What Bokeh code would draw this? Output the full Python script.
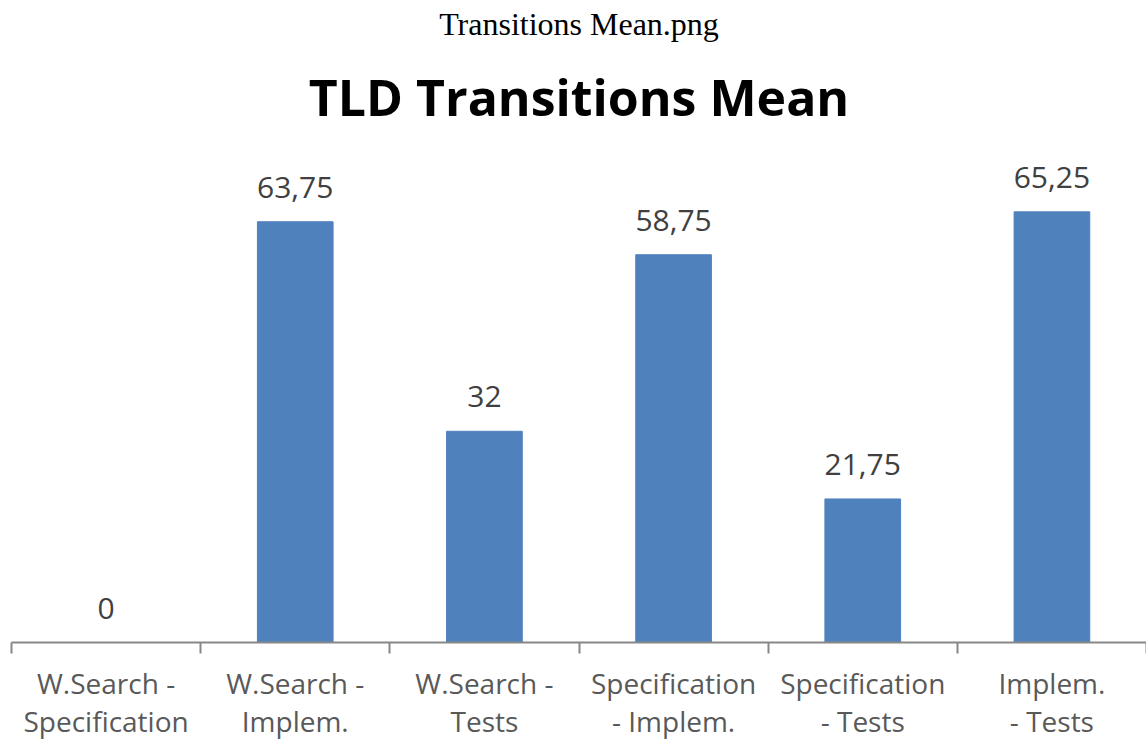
from bokeh.plotting import figure
from bokeh.models import (Range1d, LinearAxis, FixedTicker, Title, ColumnDataSource, LabelSet)
from bokeh.core.properties import value
from bokeh.embed import file_html
from bokeh.resources import INLINE

categories = ["W.Search -\nSpecification", "W.Search -\nImplem.", "W.Search -\nTests",
              "Specification\n- Implem.", "Specification\n- Tests", "Implem.\n- Tests"]
values = [0, 63.75, 32, 58.75, 21.75, 65.25]
labels = ["0", "63,75", "32", "58,75", "21,75", "65,25"]

n = len(categories)
xpos = [i + 0.5 for i in range(n)]
src = ColumnDataSource(dict(x=xpos, val=values, lab=labels))

p = figure(width=1146, height=742, x_range=Range1d(0, n),
           y_range=Range1d(0, 75.15), output_backend="svg", toolbar_location=None,
           x_axis_location=None, y_axis_location=None,
           min_border_left=11, min_border_right=0, min_border_bottom=0, min_border_top=0)
p.xgrid.visible = False
p.ygrid.visible = False
p.outline_line_color = None

p.vbar(x="x", top="val", width=0.4, source=src, fill_color="#4F81BD",
       line_color="#4F81BD")

lbls = LabelSet(x="x", y="val", text="lab", source=src, y_offset=24,
                text_align="center", text_baseline="alphabetic",
                text_font=value("Open Sans"), text_font_size="30px", text_color="#404040")
p.add_layout(lbls)

ax = LinearAxis(ticker=FixedTicker(ticks=xpos, minor_ticks=list(range(n + 1))),
                major_label_overrides={x: c for x, c in zip(xpos, categories)},
                axis_line_color="#888888", axis_line_width=2,
                major_tick_line_color=None, major_tick_out=0, major_tick_in=0,
                minor_tick_line_color="#888888", minor_tick_line_width=2,
                minor_tick_out=11, minor_tick_in=0,
                major_label_text_font="Open Sans", major_label_text_font_size="28px",
                major_label_text_color="#595959", major_label_text_line_height=1.0,
                major_label_standoff=10)
p.add_layout(ax, "below")

p.add_layout(Title(text="TLD Transitions Mean", align="center", text_font="Open Sans",
                   text_font_size="50px", text_font_style="bold", text_color="#000000",
                   text_line_height=1.0, standoff=32, offset=4), "above")
p.add_layout(Title(text="Transitions Mean.png", align="center", text_font="Liberation Serif",
                   text_font_size="32px", text_font_style="normal", text_color="#000000",
                   text_line_height=1.0, standoff=6, offset=8), "above")

open("out.html", "w").write(file_html(p, INLINE))
